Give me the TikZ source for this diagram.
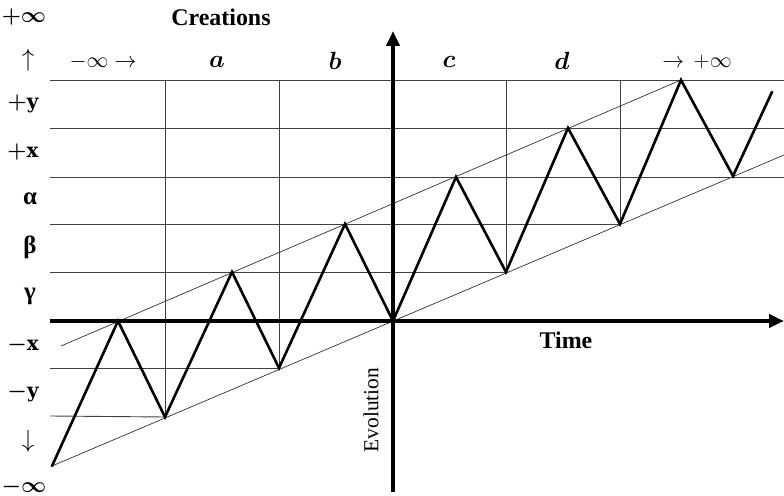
\RequirePackage{fix-cm}
\documentclass[tikz,border=0pt]{standalone}
\usepackage{fontspec}
\newfontfamily\tnr{Liberation Serif}
\newfontfamily\dvs{DejaVu Serif}
\usetikzlibrary{arrows.meta}
\newcommand{\lv}[1]{{\fontsize{20}{24}\selectfont\dvs\bfseries #1}}
\begin{document}
\begin{tikzpicture}[x=1bp,y=-1bp,
  grid/.style={draw=black!75,line width=0.9bp},
  bound/.style={draw=black!80,line width=0.7bp},
  zig/.style={draw=black,line width=2.6bp,line join=miter,line cap=round},
  axis/.style={draw=black,line width=4.5bp,-{Triangle[length=15bp,width=13bp]}},
  lab/.style={font=\fontsize{22}{26}\selectfont\bfseries\boldmath,inner sep=0pt},
  arr/.style={font=\fontsize{25}{28}\selectfont,inner sep=0pt},
  glab/.style={font=\fontsize{25}{28}\selectfont\tnr\bfseries,inner sep=0pt},
  clab/.style={font=\fontsize{25}{28}\selectfont\boldmath,inner sep=0pt},
  tlab/.style={font=\fontsize{22}{26}\selectfont,inner sep=0pt},
  wlab/.style={font=\fontsize{24}{28}\selectfont\tnr\bfseries,inner sep=0pt}]
\useasboundingbox (0,0) rectangle (784,496);
\fill[white] (0,0) rectangle (784,496);
% zigzag coordinates
\coordinate (t0) at (52,466);
\coordinate (p1) at (118,321);
\coordinate (t1) at (165,417);
\coordinate (p2) at (232,272);
\coordinate (t2) at (279,368);
\coordinate (p3) at (345,224);
\coordinate (t3) at (393,321);
\coordinate (p4) at (456,177);
\coordinate (t4) at (506,272);
\coordinate (p5) at (568,128);
\coordinate (t5) at (620,224);
\coordinate (p6) at (681,80);
\coordinate (t6) at (733,176);
\coordinate (e) at (772,92);
\coordinate (us) at (61,346);
\coordinate (le) at (784,155);
% grid
\foreach \y in {80,128,177} \draw[grid] (50,\y) -- (784,\y);
\draw[grid] (50,224) -- (t5);
\draw[grid] (50,272) -- (t4);
\draw[grid] (50,368) -- (t2);
\draw[grid] (50,416) -- (t1);
\draw[grid] (165,80) -- (t1);
\draw[grid] (279,80) -- (t2);
\draw[grid] (506,80) -- (t4);
\draw[grid] (620,80) -- (t5);
% bounding lines
\draw[bound] (us) -- (p6);
\draw[bound] (t0) -- (le);
% axes
\coordinate (xa) at (50,321);
\coordinate (xb) at (784,321);
\coordinate (ya) at (393,492);
\coordinate (yb) at (393,31);
\draw[axis] (xa) -- (xb);
\draw[axis] (ya) -- (yb);
% zigzag
\draw[zig] (t0) -- (p1) -- (t1) -- (p2) -- (t2) -- (p3) -- (t3) -- (p4) -- (t4) -- (p5) -- (t5) -- (p6) -- (t6) -- (e);
% left labels
\node[lab] (l1) at (24,17) {$+\infty$};
\node[arr] (l2) at (28,60) {$\uparrow$};
\node[lab] (l3) at (23,104) {$+$\lv{y}};
\node[lab] (l4) at (23,152) {$+$\lv{x}};
\node[glab] (l5) at (30,199) {α};
\node[glab] (l6) at (30,247) {β};
\node[glab] (l7) at (30,296) {γ};
\node[lab] (l8) at (23,345) {$-$\lv{x}};
\node[lab] (l9) at (23,393) {$-$\lv{y}};
\node[arr] (l10) at (28,441) {$\downarrow$};
\node[lab] (l11) at (24,487) {$-\infty$};
% top labels
\node[wlab] (cr) at (221,17) {Creations};
\node[tlab] (mi) at (103,62) {$-\infty\rightarrow$};
\node[clab] (ca) at (217,62) {$a$};
\node[clab] (cb) at (335,61) {$b$};
\node[clab] (cc) at (449,62) {$c$};
\node[clab] (cd) at (562,61) {$d$};
\node[tlab] (pi) at (697,62) {$\rightarrow\,+\infty$};
% axis labels
\node[wlab] (tm) at (566,340) {Time};
\node[rotate=90,inner sep=0pt,font=\fontsize{21.5}{24}\selectfont\tnr] (ev) at (371,410) {Evolution};
\end{tikzpicture}
\end{document}
